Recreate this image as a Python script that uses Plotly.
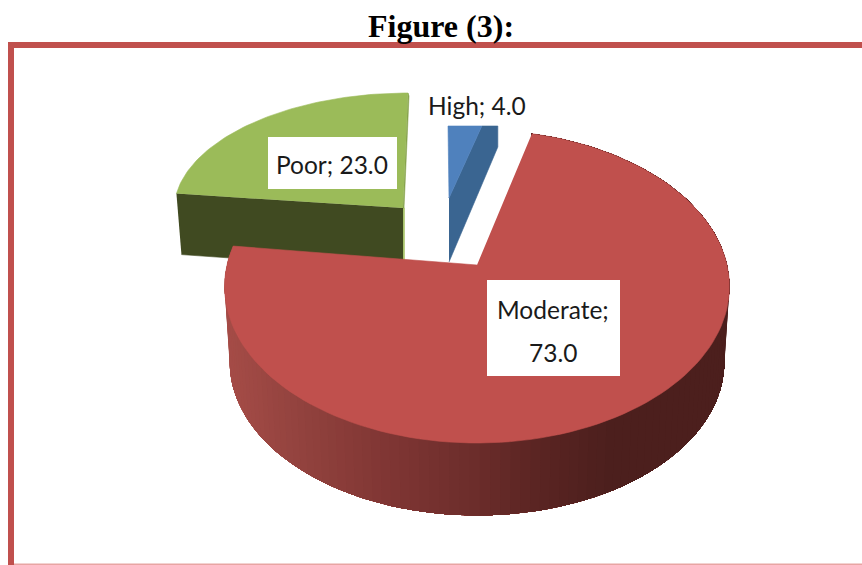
import numpy as np
import plotly.graph_objects as go

categories = ["High", "Moderate", "Poor"]
values = [4.0, 73.0, 23.0]
top_colors = ["#4F81BD", "#C0504D", "#9BBB59"]

W, H = 862, 565
edges = np.concatenate([[0], np.cumsum(values)]) / sum(values) * 2 * np.pi
spans = {c: (edges[i], edges[i + 1]) for i, c in enumerate(categories)}

fig = go.Figure()


def poly(xs, ys, color, lw=0.6):
    fig.add_trace(go.Scatter(x=list(xs), y=list(ys), mode="lines", fill="toself", fillcolor=color,
                             line=dict(color=color, width=lw), hoverinfo="skip", showlegend=False))


def rim(t, ax, ay, R, Q, p, skew=0.0):
    u, v = np.sin(t), np.cos(t)
    w = 1 + p * v
    return ax + R * u / w + skew * v, ay - Q * v / w


def lerp_color(x):
    stops_x = [225, 300, 400, 473, 540, 610, 730]
    r = np.interp(x, stops_x, [165, 146, 125, 108, 90, 76, 76])
    g = np.interp(x, stops_x, [76, 66, 52, 45, 36, 31, 31])
    b = np.interp(x, stops_x, [71, 62, 50, 43, 34, 29, 29])
    return f"rgb({r:.0f},{g:.0f},{b:.0f})"


# Poor
t0, t1 = spans["Poor"]
ax, ay = 403, 208
ts = np.linspace(t0, t1, 70)
px, py = rim(ts, ax, ay, 229, 115, 0.0, skew=5)
lx, ly = rim(t0, ax, ay, 229, 115, 0.0, skew=5)
poly([lx, ax, ax, lx + 5], [ly, ay, ay + 62, ly + 61], "#404A21")
poly([ax, ax + 1.5, ax + 1.5, ax], [ay, ay, ay + 52, ay + 52], "#A9C46C")
poly(list(px) + [ax], list(py) + [ay], top_colors[2])
poly([px[-1], px[-1] + 1, ax + 1, ax], [py[-1], py[-1] + 3, ay, ay], "#86A34B")

# High: the reference draws this small slice's outer edge as a flat chord
t0, t1 = spans["High"]
ax, ay = 449, 198
ex, _ = rim(t1, ax, ay, 132, 72, 0.0)
ey = ay - 72
poly([ax, ex, ex + 16, ex + 16, ax], [ay, ey, ey, ey + 21, ay + 64], "#3A6591")
poly([ax, ax - 1, ex, ax], [ay, ey, ey, ay], top_colors[0])

# Moderate: side wall painted left to right, each layer covering the rest of the wall
t0, t1 = spans["Moderate"]
ax, ay = 477, 265
R, Q, p, S, D = 250, 153.6, 0.137, 0.98, 76
ts = np.linspace(t0, t1, 130)
tx, ty = rim(ts, ax, ay, R, Q, p)
lowx, lowy = rim(ts, ax, ay + D, R * S, Q * S, p)
for i in range(len(ts) - 1, 0, -1):
    if ts[i] < np.pi / 2:
        break
    col = lerp_color((tx[i] + tx[i - 1]) / 2)
    poly(list(tx[: i + 1]) + list(lowx[: i + 1][::-1]), list(ty[: i + 1]) + list(lowy[: i + 1][::-1]), col, lw=0)
poly(list(tx) + [ax], list(ty) + [ay], top_colors[1])

# Data labels
label_font = dict(family="Lato", size=24.5, color="#1a1a1a")
fig.add_shape(type="rect", x0=268, x1=397, y0=137, y1=189, fillcolor="white", line_width=0, layer="above")
fig.add_shape(type="rect", x0=487, x1=620, y0=280, y1=376, fillcolor="white", line_width=0, layer="above")
for text, x, y in [
    (f"{categories[0]}; {values[0]:.1f}", 477, 105),
    (f"{categories[2]}; {values[2]:.1f}", 332, 164),
    (f"{categories[1]};", 553, 309),
    (f"{values[1]:.1f}", 553, 352),
]:
    fig.add_annotation(x=x, y=y, text=text, showarrow=False, font=label_font, align="center", xanchor="center", yanchor="middle")

# Frame
frame = "#C0504D"
fig.add_shape(type="rect", x0=8, x1=W, y0=42, y1=48, fillcolor=frame, line_width=0)
fig.add_shape(type="rect", x0=8, x1=14, y0=42, y1=H, fillcolor=frame, line_width=0)
fig.add_shape(type="rect", x0=14, x1=W, y0=563.5, y1=565, fillcolor="#E8A5A3", line_width=0)

fig.add_annotation(x=441, y=26, text="<b>Figure (3):</b>", showarrow=False,
                   font=dict(family="Liberation Serif", size=32, color="black"), xanchor="center", yanchor="middle")

fig.update_layout(width=W, height=H, margin=dict(l=0, r=0, t=0, b=0), paper_bgcolor="white", plot_bgcolor="white",
                  xaxis=dict(range=[0, W], visible=False, fixedrange=True),
                  yaxis=dict(range=[H, 0], visible=False, fixedrange=True), showlegend=False)
fig.write_html("out.html", config=dict(displayModeBar=False),
               post_script="document.body.style.margin='0';document.body.style.overflow='hidden';")
